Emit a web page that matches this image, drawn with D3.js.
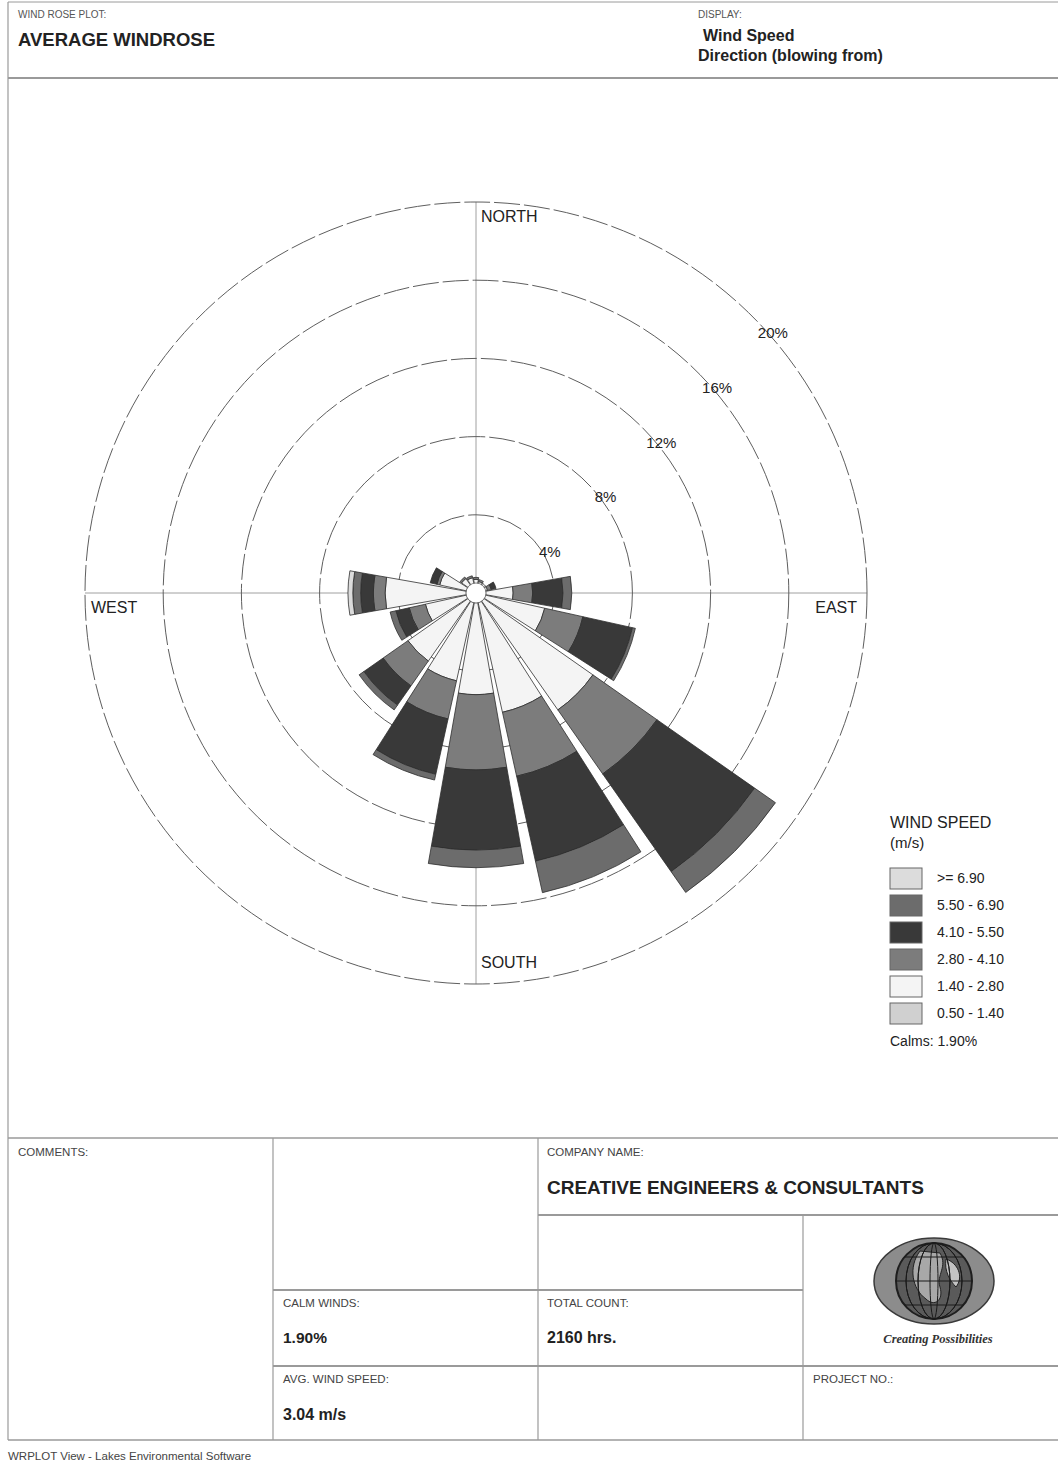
<!DOCTYPE html>
<html>
<head>
<meta charset="utf-8">
<script src="https://cdnjs.cloudflare.com/ajax/libs/d3/7.8.5/d3.min.js"></script>
<style>
  body { margin: 0; background: #fff; }
  svg { display: block; font-family: "Liberation Sans", Arial, sans-serif; }
</style>
</head>
<body>
<script>
// 16 compass sectors, "blowing from"
const directions = ["N", "NNE", "NE", "ENE", "E", "ESE", "SE", "SSE",
                    "S", "SSW", "SW", "WSW", "W", "WNW", "NW", "NNW"]

// frequency (%) per speed class, one value per direction (same order as above)
const freq050 = [0.3, 0.3, 0.3, 0.3, 0.5, 0.5, 0.5, 0.5, 0.5, 0.5, 0.5, 0.5, 0.5, 0.5, 0.4, 0.4]
const freq140 = [0.4, 0.3, 0.3, 0.3, 1.4, 3.1, 6.8, 5.75, 4.7, 4.1, 3.75, 2.15, 4.15, 1.4, 0.5, 0.4]
const freq280 = [0.1, 0.1, 0.0, 0.2, 1.0, 2.0, 4.0, 3.35, 3.85, 2.0, 1.55, 0.85, 0.6, 0.15, 0.1, 0.1]
const freq410 = [0.0, 0.0, 0.0, 0.25, 1.55, 2.6, 6.1, 4.45, 4.1, 2.9, 1.2, 0.7, 0.65, 0.35, 0.0, 0.0]
const freq550 = [0.0, 0.0, 0.0, 0.0, 0.45, 0.15, 1.3, 1.65, 0.9, 0.3, 0.3, 0.3, 0.4, 0.0, 0.0, 0.0]
const freq690 = [0.0, 0.0, 0.0, 0.0, 0.0, 0.0, 0.0, 0.0, 0.0, 0.0, 0.0, 0.0, 0.25, 0.0, 0.0, 0.0]

const speedKeys = ["s050", "s140", "s280", "s410", "s550", "s690"]
const speedLabels = ["0.50 - 1.40", "1.40 - 2.80", "2.80 - 4.10", "4.10 - 5.50", "5.50 - 6.90", ">= 6.90"]
const speedColors = ["#d0d0d0", "#f4f4f4", "#7c7c7c", "#393939", "#6c6c6c", "#dcdcdc"]

const ringTicks = [4, 8, 12, 16, 20]
const calmsPct = 1.90

const width = 1058, height = 1463
const cx = 476, cy = 593, outerR = 391

let svg = d3.select("body").append("svg")
    .attr("width", width)
    .attr("height", height)

// ---------- frame / header ----------
const lineCol = "#9a9a9a"
function hline(x1, x2, y, w) {
    svg.append("line").attr("x1", x1).attr("x2", x2).attr("y1", y).attr("y2", y)
        .attr("stroke", lineCol).attr("stroke-width", w || 1.5)
}
function vline(x, y1, y2, w) {
    svg.append("line").attr("x1", x).attr("x2", x).attr("y1", y1).attr("y2", y2)
        .attr("stroke", lineCol).attr("stroke-width", w || 1.5)
}
function label(x, y, txt, size, weight, fill) {
    return svg.append("text").attr("x", x).attr("y", y).text(txt)
        .attr("font-size", size).attr("font-weight", weight || "normal")
        .attr("fill", fill || "#222")
}

hline(8, 1058, 2, 1)
hline(8, 1058, 78, 2.2)
vline(8, 2, 1440, 1.2)

label(18, 18, "WIND ROSE PLOT:", 10, "normal", "#555")
label(18, 46, "AVERAGE WINDROSE", 18.5, "bold")
label(698, 18, "DISPLAY:", 10, "normal", "#555")
label(703, 41, "Wind Speed", 16, "bold")
label(698, 61, "Direction (blowing from)", 16, "bold")

// ---------- wind rose ----------
let r = d3.scaleLinear().domain([0, 20]).range([0, outerR])

let rose = svg.append("g").attr("transform", `translate(${cx},${cy})`)

// axes cross
rose.append("line").attr("x1", 0).attr("x2", 0).attr("y1", -outerR).attr("y2", outerR)
    .attr("stroke", "#a0a0a0").attr("stroke-width", 1)
rose.append("line").attr("x1", -outerR).attr("x2", outerR).attr("y1", 0).attr("y2", 0)
    .attr("stroke", "#a0a0a0").attr("stroke-width", 1)

// dashed rings
rose.selectAll(".ring")
    .data(ringTicks)
    .join("circle")
    .attr("class", "ring")
    .attr("r", d => r(d))
    .attr("fill", "none")
    .attr("stroke", "#5e5e5e")
    .attr("stroke-width", 1)
    .attr("stroke-dasharray", "26,4")

// ring labels along the NE diagonal
const labAng = 45.5 * Math.PI / 180
rose.selectAll(".ringlab")
    .data(ringTicks)
    .join("text")
    .attr("class", "ringlab")
    .attr("x", d => r(d) * Math.sin(labAng) + 18)
    .attr("y", d => -r(d) * Math.cos(labAng) + 19)
    .attr("text-anchor", "middle")
    .attr("font-size", 15)
    .attr("fill", "#222")
    .text(d => d + "%")

// compass labels
rose.append("text").attr("x", 5).attr("y", -outerR + 20).text("NORTH").attr("font-size", 16).attr("fill", "#222")
rose.append("text").attr("x", 5).attr("y", outerR - 16).text("SOUTH").attr("font-size", 16).attr("fill", "#222")
rose.append("text").attr("x", -outerR + 6).attr("y", 20).text("WEST").attr("font-size", 16).attr("fill", "#222")
rose.append("text").attr("x", outerR - 10).attr("y", 20).text("EAST").attr("font-size", 16).attr("fill", "#222")
    .attr("text-anchor", "end")

// stack the speed classes per direction
let table = directions.map((d, i) => ({
    dir: d, idx: i,
    s050: freq050[i], s140: freq140[i], s280: freq280[i],
    s410: freq410[i], s550: freq550[i], s690: freq690[i]
}))
let stacked = d3.stack().keys(speedKeys)(table)

const halfWidth = 10 * Math.PI / 180
let arc = d3.arc()
    .innerRadius(d => r(d[0]))
    .outerRadius(d => r(d[1]))
    .startAngle(d => d.data.idx * Math.PI / 8 - halfWidth)
    .endAngle(d => d.data.idx * Math.PI / 8 + halfWidth)

rose.selectAll(".band")
    .data(stacked)
    .join("g")
    .attr("class", "band")
    .attr("fill", (d, i) => speedColors[i])
    .selectAll("path")
    .data(d => d.filter(s => s[1] - s[0] > 0))
    .join("path")
    .attr("d", arc)
    .attr("stroke", "#2e2e2e")
    .attr("stroke-width", 0.8)

// calm circle
rose.append("circle").attr("r", 10).attr("fill", "#fff").attr("stroke", "#666").attr("stroke-width", 0.8)

// ---------- legend ----------
let legend = svg.append("g").attr("transform", "translate(890,0)")
legend.append("text").attr("x", 0).attr("y", 828).text("WIND SPEED").attr("font-size", 16).attr("fill", "#222")
legend.append("text").attr("x", 0).attr("y", 848).text("(m/s)").attr("font-size", 15).attr("fill", "#222")

let legendOrder = d3.range(speedKeys.length).reverse()
legend.selectAll(".lbox")
    .data(legendOrder)
    .join("rect")
    .attr("class", "lbox")
    .attr("x", 0)
    .attr("y", (d, i) => 868 + i * 27)
    .attr("width", 32)
    .attr("height", 21)
    .attr("fill", d => speedColors[d])
    .attr("stroke", "#666")
    .attr("stroke-width", 1)
legend.selectAll(".ltxt")
    .data(legendOrder)
    .join("text")
    .attr("class", "ltxt")
    .attr("x", 47)
    .attr("y", (d, i) => 883 + i * 27)
    .attr("font-size", 14)
    .attr("fill", "#222")
    .text(d => speedLabels[d])
legend.append("text").attr("x", 0).attr("y", 1046).text("Calms: " + calmsPct.toFixed(2) + "%")
    .attr("font-size", 14).attr("fill", "#222")

// ---------- footer table ----------
hline(8, 1058, 1138, 1.5)
hline(538, 1058, 1215, 2.2)
hline(273, 803, 1290, 2.2)
hline(273, 1058, 1366, 1.8)
hline(8, 1058, 1440, 1.5)
vline(273, 1138, 1440, 1.2)
vline(538, 1138, 1440, 1.2)
vline(803, 1215, 1440, 1.2)

label(18, 1156, "COMMENTS:", 11.5, "normal", "#444")
label(547, 1156, "COMPANY NAME:", 11.5, "normal", "#444")
label(547, 1194, "CREATIVE ENGINEERS & CONSULTANTS", 19, "bold")
label(283, 1307, "CALM WINDS:", 11.5, "normal", "#444")
label(283, 1343, calmsPct.toFixed(2) + "%", 15.5, "bold")
label(547, 1307, "TOTAL COUNT:", 11.5, "normal", "#444")
label(547, 1343, "2160 hrs.", 16, "bold")
label(283, 1383, "AVG. WIND SPEED:", 11.5, "normal", "#444")
label(283, 1420, "3.04 m/s", 16, "bold")
label(813, 1383, "PROJECT NO.:", 11.5, "normal", "#444")
label(8, 1460, "WRPLOT View - Lakes Environmental Software", 11.5, "normal", "#444")

// company logo (globe)
let logo = svg.append("g").attr("transform", "translate(934,1281)")
logo.append("ellipse").attr("rx", 60).attr("ry", 43).attr("fill", "#8c8c8c").attr("stroke", "#3a3a3a").attr("stroke-width", 1.5)
logo.append("circle").attr("r", 38).attr("fill", "#5a5a5a").attr("stroke", "#1e1e1e").attr("stroke-width", 2)
logo.append("path").attr("d", "M-14,-30 C-26,-14 -22,8 -8,18 C0,26 10,20 6,6 C2,-6 14,-14 6,-28 Z")
    .attr("fill", "#a8a8a8").attr("stroke", "#222")
logo.append("path").attr("d", "M12,-22 C24,-18 30,-4 22,6 C16,0 10,-10 12,-22 Z")
    .attr("fill", "#c4c4c4").attr("stroke", "#222")
;[-24, -12, 0, 12, 24].forEach(k => {
    logo.append("ellipse").attr("rx", Math.abs(k) + 4).attr("ry", 38)
        .attr("fill", "none").attr("stroke", "#1a1a1a").attr("stroke-width", 1)
})
;[-24, 0, 24].forEach(k => {
    logo.append("line").attr("x1", -Math.sqrt(38 * 38 - k * k)).attr("x2", Math.sqrt(38 * 38 - k * k))
        .attr("y1", k).attr("y2", k).attr("stroke", "#1a1a1a").attr("stroke-width", 1)
})
svg.append("text").attr("x", 938).attr("y", 1343).attr("text-anchor", "middle")
    .attr("font-family", "'Liberation Serif', 'DejaVu Serif', serif")
    .attr("font-style", "italic").attr("font-weight", "bold").attr("font-size", 12.5)
    .attr("fill", "#333").text("Creating Possibilities")
</script>
</body>
</html>
